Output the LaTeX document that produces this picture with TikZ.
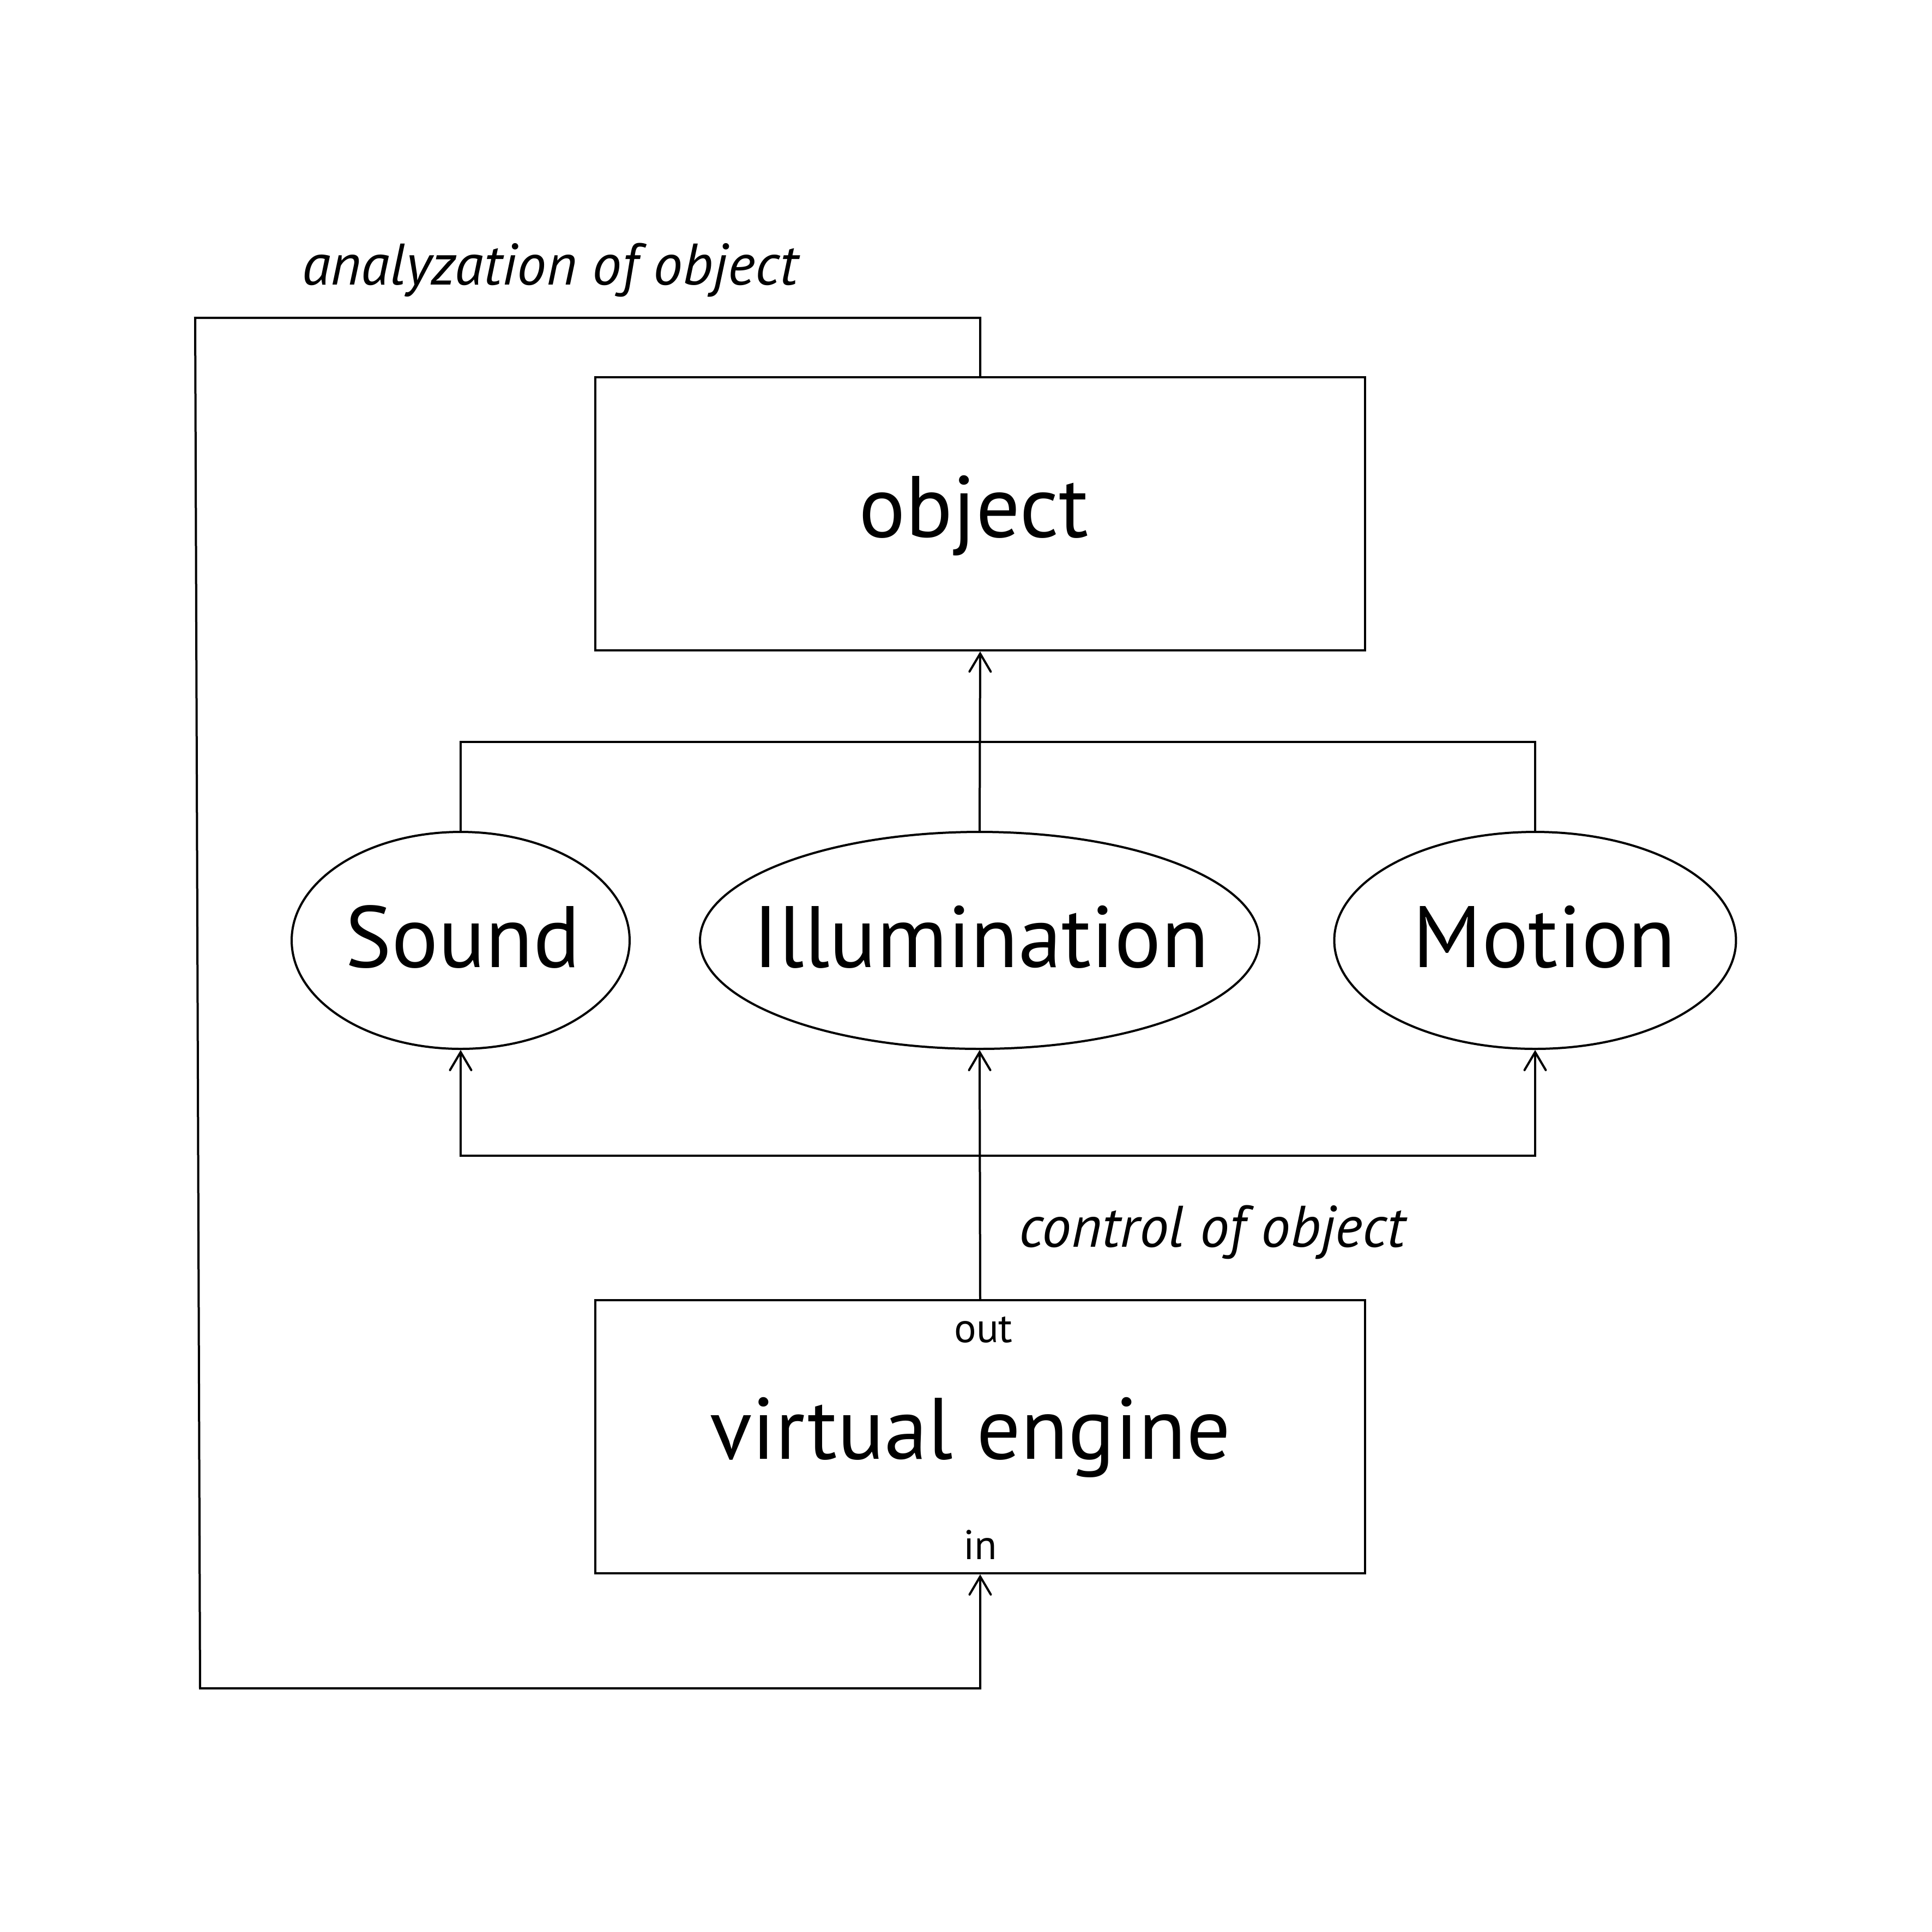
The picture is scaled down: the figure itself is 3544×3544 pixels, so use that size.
\documentclass[tikz,border=0pt]{standalone}
\usepackage{fontspec}
\setmainfont{PT Sans}
\usetikzlibrary{arrows.meta,shapes.geometric}
\begin{document}
\begin{tikzpicture}[x=0.1pt,y=-0.1pt,
  line width=0.4pt,
  box/.style={draw,rectangle,minimum width=141.2pt,minimum height=50.1pt,inner sep=0pt},
  oval/.style={draw,ellipse,minimum height=39.8pt,inner sep=0pt},
  big/.style={anchor=base,inner sep=0pt,font=\fontsize{16}{19}\selectfont},
  small/.style={anchor=base,inner sep=0pt,font=\fontsize{7.6}{9}\selectfont},
  note/.style={anchor=base,inner sep=0pt,font=\fontsize{10.75}{13}\selectfont\itshape},
  arr/.style={-{Straight Barb[length=3.3pt,width=3.9pt,line cap=round]}},
]
\useasboundingbox (0,0) rectangle (3544,3544);
% boxes
\node[box] (obj) at (1798,942.5) {};
\node[box] (ve) at (1798,2635.5) {};
% ellipses
\node[oval,minimum width=62pt] (snd) at (845,1725) {};
\node[oval,minimum width=102.6pt] (ill) at (1797,1725) {};
\node[oval,minimum width=73.7pt] (mot) at (2816,1725) {};
% texts
\node[big] (tobj) at (1786,985) {object};
\node[big] (tsnd) at (849,1774) {Sound};
\node[big] (till) at (1800,1774) {Illumination};
\node[big] (tmot) at (2833,1774) {Motion};
\node[big] (tve) at (1780,2676) {virtual engine};
\node[small] (tout) at (1804,2462) {out};
\node[small] (tin) at (1798,2860) {in};
\node[note] (tana) at (1009,522) {analyzation of object};
\node[note] (tctl) at (2224,2287) {control of object};
% helper coordinates
\coordinate (fbTL) at (358,583);
\coordinate (fbBL) at (367,3097);
\coordinate (barT) at (1797,1361);
\coordinate (barB) at (1797,2120);
% connectors
\draw[arr] (obj.north) |- (fbTL) -- (fbBL) -| (ve.south);
\draw (snd.north) |- (barT) -| (mot.north);
\draw[arr] (ill.north) -- (obj.south);
\draw[arr] (ve.north) -- (ill.south);
\draw[arr] (barB) -| (snd.south);
\draw[arr] (barB) -| (mot.south);
\end{tikzpicture}
\end{document}
